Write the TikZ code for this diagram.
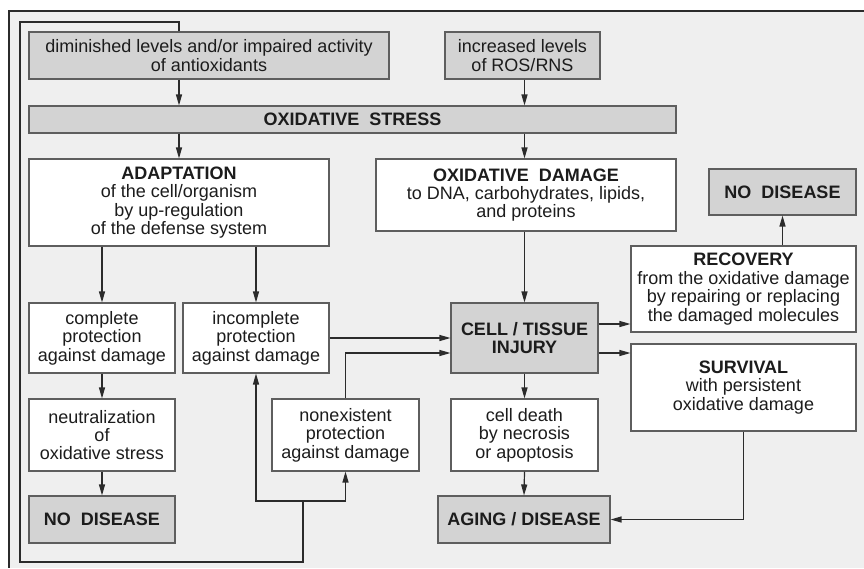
\documentclass[tikz,border=0pt]{standalone}
\usepackage{fontspec}
\setmainfont{Liberation Sans}
\usetikzlibrary{arrows.meta,calc}

\definecolor{pagebg}{HTML}{EFEFEF}
\definecolor{boxgray}{HTML}{D3D3D3}
\definecolor{boxline}{HTML}{5E5E5E}
\definecolor{wirecol}{HTML}{2B2B2B}
\definecolor{inkcol}{HTML}{1C1C1C}

% \flowbox{style}{name}{x1}{y1}{x2}{y2}{text}: box given by its corners
\newcommand\flowbox[7]{%
  \node[#1, minimum width={(#5-#3)*1pt}, minimum height={(#6-#4)*1pt}]
    (#2) at ({(#3+#5)/2},{(#4+#6)/2}) {#7};}

\begin{document}
\begin{tikzpicture}[x=1pt,y=-1pt,
  plainbox/.style={draw=boxline, line width=1.1pt, fill=white, align=center,
    inner sep=0pt, text=inkcol, font=\fontsize{18}{18.4}\selectfont},
  graybox/.style={plainbox, fill=boxgray},
  wire/.style={draw=wirecol, line width=1.2pt},
  conn/.style={wire, -{Triangle[length=11pt,width=6pt]}}]

\useasboundingbox (0,0) rectangle (864,568);
\fill[white] (0,0) rectangle (864,568);
\fill[pagebg] (9,11) rectangle (864,568);
\draw[wirecol, line width=1.6pt] (864,11) -- (9,11) -- (9,568);

% causes
\flowbox{graybox}{dimin}{29}{32}{389}{79}{diminished levels and/or impaired activity\\of antioxidants}
\flowbox{graybox}{incr}{445}{32}{600}{79}{increased levels\\of ROS/RNS}
\flowbox{graybox}{stress}{29}{106}{676}{133}{\bfseries OXIDATIVE\ \ STRESS}

% responses
\flowbox{plainbox}{adapt}{29}{159}{329}{246}{\textbf{ADAPTATION}\\of the cell/organism\\by up-regulation\\of the defense system}
\flowbox{plainbox}{damage}{376}{159}{676}{231}{\textbf{OXIDATIVE\ \ DAMAGE}\\to DNA, carbohydrates, lipids,\\and proteins}
\flowbox{graybox}{nodisB}{709}{169}{856}{215}{\bfseries NO\ \ DISEASE}

\flowbox{plainbox}{comp}{29}{303}{175}{373}{complete\\protection\\against damage}
\flowbox{plainbox}{incomp}{183}{303}{329}{373}{incomplete\\protection\\against damage}
\flowbox{graybox}{inj}{451}{303}{598}{373}{\bfseries CELL / TISSUE\\\bfseries INJURY}
\flowbox{plainbox}{recov}{631}{246}{856}{332}{\textbf{RECOVERY}\\from the oxidative damage\\by repairing or replacing\\the damaged molecules}
\flowbox{plainbox}{surv}{631}{344}{856}{431}{\textbf{SURVIVAL}\\with persistent\\oxidative damage}

\flowbox{plainbox}{neutr}{29}{399}{175}{471}{neutralization\\of\\oxidative stress}
\flowbox{plainbox}{nonex}{272}{399}{419}{471}{nonexistent\\protection\\against damage}
\flowbox{plainbox}{death}{451}{399}{598}{471}{cell death\\by necrosis\\or apoptosis}

\flowbox{graybox}{nodisA}{29}{496}{175}{543}{\bfseries NO\ \ DISEASE}
\flowbox{graybox}{aging}{438}{496}{610}{543}{\bfseries AGING / DISEASE}

% vertical flow
\draw[conn] (dimin.south -| adapt) -- (stress.north -| adapt);
\draw[conn] (incr.south -| inj) -- (stress.north -| inj);
\draw[conn] (stress.south -| adapt) -- (adapt.north);
\draw[conn] (stress.south -| inj) -- (damage.north -| inj);
\draw[conn] (adapt.south -| comp) -- (comp.north);
\draw[conn] (adapt.south -| incomp) -- (incomp.north);
\draw[conn] (comp.south) -- (neutr.north);
\draw[conn] (neutr.south) -- (nodisA.north);
\draw[conn] (damage.south -| inj) -- (inj.north);
\draw[conn] (inj.south) -- (death.north);
\draw[conn] (death.south) -- (aging.north);
\draw[conn] (recov.north -| nodisB) -- (nodisB.south);

% into and out of the injury box
\coordinate (toRec) at ($(inj.east)+(0,-14)$);
\coordinate (toSurv) at ($(inj.east)+(0,15)$);
\coordinate (fromNon) at ($(inj.west)+(0,15)$);
\draw[conn] (toRec) -- (toRec -| recov.west);
\draw[conn] (toSurv) -- (toSurv -| surv.west);
\draw[conn] (incomp.east) -- (incomp.east -| inj.west);
\draw[conn] (nonex.north) |- (fromNon);
\draw[conn] (surv.south) |- (aging.east);

% feedback loop from lowered antioxidant levels
\coordinate (loopTop) at (20,22);
\coordinate (loopLow) at (20,562);
\coordinate (loopJoin) at (303,501);
\draw[wire] (dimin.north -| adapt) |- (loopTop) -- (loopLow) -| (loopJoin);
\draw[conn] (loopJoin) -| (incomp.south);
\draw[conn] (loopJoin) -| (nonex.south);
\end{tikzpicture}
\end{document}
